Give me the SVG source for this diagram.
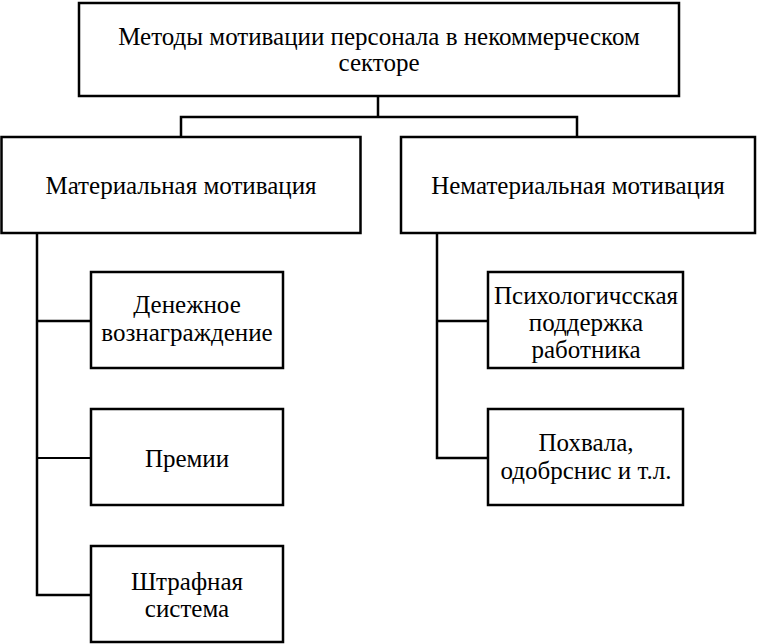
<svg xmlns="http://www.w3.org/2000/svg" width="757" height="644" viewBox="0 0 757 644">
<style>
.box{fill:#fff;stroke:#000;stroke-width:2.5}
.t{font-family:'Liberation Serif','Times New Roman',serif;font-size:25px;fill:#000;text-anchor:middle}
.c{fill:none;stroke:#000;stroke-width:2.5}
.thin{stroke-width:2}
</style>
<rect width="757" height="644" fill="#fff"/>
<g id="connectors">
<path class="c" d="M378 96V117M181 137V117H577V137"/>
<path class="c" d="M37 233V595H91M37 321H91"/>
<path class="c thin" d="M37 458H91"/>
<path class="c" d="M437 233V458H488M437 321H488"/>
</g>
<g id="root"><rect class="box" x="79" y="3" width="600" height="93"/>
<text class="t" x="379" y="45">Методы мотивации персонала в некоммерческом</text>
<text class="t" x="379" y="71">секторе</text></g>
<g id="material"><rect class="box" x="1.5" y="137" width="359" height="96"/>
<text class="t" x="181" y="194">Материальная мотивация</text></g>
<g id="nonmaterial"><rect class="box" x="401" y="137" width="354" height="96"/>
<text class="t" x="578" y="194">Нематериальная мотивация</text></g>
<g id="money"><rect class="box" x="91" y="272" width="192" height="96"/>
<text class="t" x="187" y="313">Денежное</text>
<text class="t" x="187" y="341">вознаграждение</text></g>
<g id="bonus"><rect class="box" x="91" y="409" width="192" height="96"/>
<text class="t" x="187" y="467">Премии</text></g>
<g id="penalty"><rect class="box" x="91" y="546" width="192" height="96"/>
<text class="t" x="187" y="590">Штрафная</text>
<text class="t" x="187" y="617">система</text></g>
<g id="psych"><rect class="box" x="488" y="272" width="195" height="96"/>
<text class="t" x="586" y="304">Психологичсская</text>
<text class="t" x="586" y="331">поддержка</text>
<text class="t" x="586" y="358">работника</text></g>
<g id="praise"><rect class="box" x="488" y="409" width="195" height="96"/>
<text class="t" x="586" y="451">Похвала,</text>
<text class="t" x="586" y="479">одобрснис и т.л.</text></g>
</svg>
